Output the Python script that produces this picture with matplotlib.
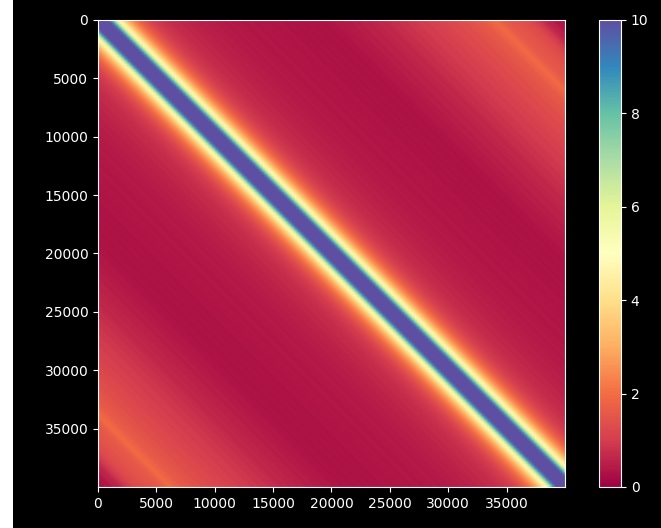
import numpy as np
import matplotlib as mpl
mpl.use('Agg')
import matplotlib.pyplot as plt  # noqa

plt.style.use('dark_background')

# kernel value as a function of |i - j|, one entry per 250 samples of lag
step = 250
size = 40000
near_diag = [12.0, 11.8, 11.2, 10.2, 8.8, 7.2, 5.8, 4.8, 4.0, 3.4,
             2.9, 2.5, 2.2, 1.9, 1.65, 1.45, 1.3, 1.15, 1.05, 0.95]
lag_5k = [0.9, 0.85, 0.8, 0.78, 0.72, 0.7, 0.72, 0.66, 0.62, 0.65,
          0.58, 0.55, 0.58, 0.52, 0.5, 0.53, 0.48, 0.46, 0.5, 0.45]
lag_10k = [0.42, 0.45, 0.4, 0.38, 0.43, 0.4, 0.36, 0.4, 0.38, 0.35,
           0.38, 0.41, 0.36, 0.34, 0.38, 0.36, 0.33, 0.37, 0.35, 0.32]
lag_15k = [0.34, 0.36, 0.32, 0.3, 0.35, 0.33, 0.3, 0.34, 0.32, 0.3,
           0.33, 0.35, 0.31, 0.3, 0.34, 0.33, 0.31, 0.35, 0.34, 0.32]
lag_20k = [0.36, 0.4, 0.38, 0.42, 0.45, 0.42, 0.47, 0.5, 0.46, 0.52,
           0.55, 0.52, 0.58, 0.6, 0.56, 0.63, 0.66, 0.62, 0.7, 0.72]
lag_25k = [0.75, 0.72, 0.8, 0.84, 0.8, 0.88, 0.92, 0.88, 0.95, 0.98,
           1.0, 0.96, 1.05, 1.1, 1.05, 1.12, 1.15, 1.1, 1.2, 1.22]
lag_30k = [1.25, 1.22, 1.3, 1.35, 1.32, 1.4, 1.45, 1.42, 1.5, 1.55,
           1.6, 1.58, 1.7, 1.78, 1.85, 1.92, 1.88, 1.75, 1.65, 1.6]
lag_35k = [1.55, 1.5, 1.45, 1.48, 1.4, 1.35, 1.3, 1.25, 1.15, 1.05,
           0.95, 0.8, 0.7, 0.55, 0.6, 0.45, 0.35, 0.4, 0.25, 0.3]

lag_profile = np.array(near_diag + lag_5k + lag_10k + lag_15k +
                       lag_20k + lag_25k + lag_30k + lag_35k)
n = len(lag_profile)
idx = np.abs(np.subtract.outer(np.arange(n), np.arange(n)))
K = lag_profile[idx]

fig = plt.figure(figsize=(6.61, 5.28), dpi=100)
ax = fig.add_axes([0.1452, 0.0777, 0.7126, 0.8845])
cax = fig.add_axes([0.9062, 0.0777, 0.0333, 0.8845])

im = ax.imshow(K, cmap='Spectral', vmin=0, vmax=10,
               interpolation='bilinear', extent=(0, size, size, 0))
ax.set_xticks(np.arange(0, size, 5000))
ax.set_yticks(np.arange(0, size, 5000))
fig.colorbar(im, cax=cax)

# blank strip down the left edge
strip = fig.add_axes([0, 0, 13 / 661, 1], facecolor='white')
strip.set_xticks([])
strip.set_yticks([])
for s in strip.spines.values():
    s.set_visible(False)

fig.savefig('out.png', dpi=100)
